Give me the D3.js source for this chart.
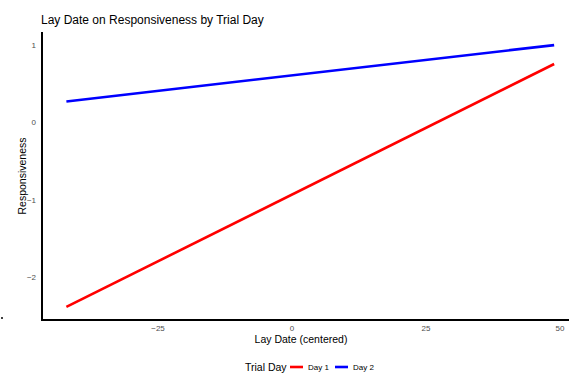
<!DOCTYPE html>
<html>
<head>
<meta charset="utf-8">
<script src="https://cdn.jsdelivr.net/npm/d3@7"></script>
<style>
  html, body { margin: 0; padding: 0; background: #fff; }
  svg { display: block; font-family: "Liberation Sans", Arial, sans-serif; }
</style>
</head>
<body>
<svg id="chart" width="569" height="374"></svg>
<script>
// Fitted responsiveness across centered lay date, one line per trial day
const layDate = [-42, 49];
const day1 = [-2.39, 0.755];
const day2 = [0.27, 1.0];
const seriesNames = ["Day 1", "Day 2"];
const seriesColors = ["#ff0000", "#0000ff"];
const xTicks = [-25, 0, 25, 50];
const yTicks = [-2, -1, 0, 1];

const svg = d3.select("#chart");
const W = 569, H = 374;

// panel extent (the panel runs off the right edge)
const panelLeft = 42, panelBottom = 320, panelTop = 32;

const xExt = d3.extent(layDate);
const xPad = (xExt[1] - xExt[0]) * 0.05;
const yAll = day1.concat(day2);
const yExt = d3.extent(yAll);
const yPad = (yExt[1] - yExt[0]) * 0.05;

const pxPerUnitX = 5.36;
const x = d3.scaleLinear()
  .domain([xExt[0] - xPad, xExt[1] + xPad])
  .range([panelLeft, panelLeft + (xExt[1] - xExt[0] + 2 * xPad) * pxPerUnitX]);
const y = d3.scaleLinear()
  .domain([yExt[0] - yPad, yExt[1] + yPad])
  .range([panelBottom, panelTop]);

// title
svg.append("text")
  .attr("x", 41).attr("y", 24)
  .attr("font-size", 12).attr("fill", "#000")
  .text("Lay Date on Responsiveness by Trial Day");

// x axis (labels only, no tick marks)
const xAxis = svg.append("g")
  .attr("transform", `translate(0,${panelBottom})`)
  .call(d3.axisBottom(x).tickValues(xTicks).tickSize(0).tickPadding(5)
        .tickFormat(d3.format("d")));
xAxis.select(".domain").remove();
xAxis.selectAll("text").attr("font-size", 8).attr("fill", "#4d4d4d")
  .attr("font-family", "Liberation Sans, Arial, sans-serif");

// y axis
const yAxis = svg.append("g")
  .attr("transform", `translate(${panelLeft},0)`)
  .call(d3.axisLeft(y).tickValues(yTicks).tickSize(0).tickPadding(6)
        .tickFormat(d3.format("d")));
yAxis.select(".domain").remove();
yAxis.selectAll("text").attr("font-size", 8).attr("fill", "#4d4d4d")
  .attr("font-family", "Liberation Sans, Arial, sans-serif");

// axis lines
svg.append("line")
  .attr("x1", panelLeft).attr("x2", W + 2)
  .attr("y1", panelBottom).attr("y2", panelBottom)
  .attr("stroke", "#000").attr("stroke-width", 2);
svg.append("line")
  .attr("x1", panelLeft).attr("x2", panelLeft)
  .attr("y1", panelTop).attr("y2", panelBottom + 1)
  .attr("stroke", "#000").attr("stroke-width", 2);

// axis titles
svg.append("text")
  .attr("x", 301).attr("y", 343)
  .attr("text-anchor", "middle").attr("font-size", 10.5).attr("fill", "#000")
  .text("Lay Date (centered)");
svg.append("text")
  .attr("transform", "translate(26,176) rotate(-90)")
  .attr("text-anchor", "middle").attr("font-size", 10.5).attr("fill", "#000")
  .text("Responsiveness");

// fitted lines
const line = d3.line().x(d => x(d[0])).y(d => y(d[1]));
const series = [day1, day2].map((vals, i) => ({
  name: seriesNames[i],
  color: seriesColors[i],
  pts: layDate.map((d, j) => [d, vals[j]])
}));
svg.append("g").selectAll("path")
  .data(series).join("path")
  .attr("d", s => line(s.pts))
  .attr("fill", "none")
  .attr("stroke", s => s.color)
  .attr("stroke-width", 2.6)
  .attr("stroke-linecap", "butt");

// legend
const lg = svg.append("g");
lg.append("text")
  .attr("x", 245).attr("y", 371)
  .attr("font-size", 10.5).attr("fill", "#000")
  .text("Trial Day");
const keyX = [290, 335];
series.forEach((s, i) => {
  lg.append("line")
    .attr("x1", keyX[i]).attr("x2", keyX[i] + 13)
    .attr("y1", 367).attr("y2", 367)
    .attr("stroke", s.color).attr("stroke-width", 2.6);
  lg.append("text")
    .attr("x", keyX[i] + 18).attr("y", 370)
    .attr("font-size", 8).attr("fill", "#000")
    .text(s.name);
});

// small stray mark at the left margin
svg.append("circle").attr("cx", 2).attr("cy", 318).attr("r", 1).attr("fill", "#000");
</script>
</body>
</html>
